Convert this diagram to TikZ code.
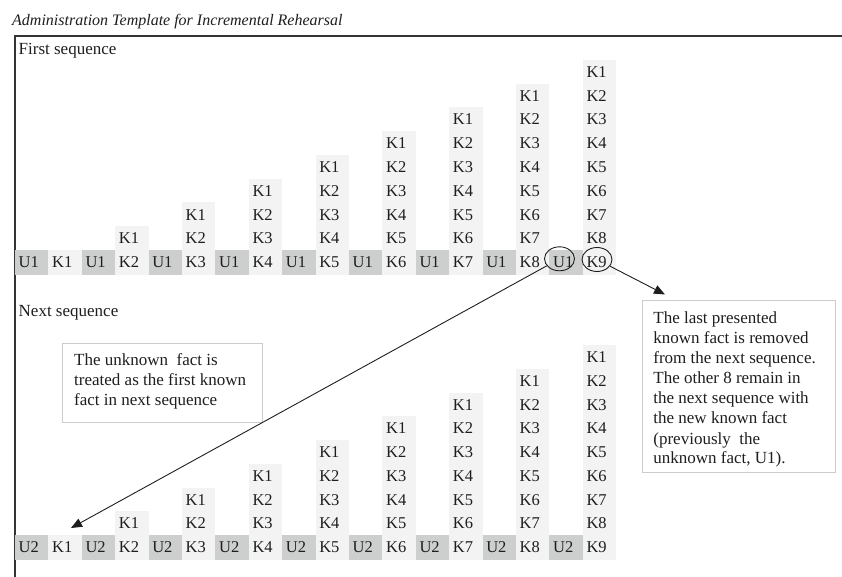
\documentclass[tikz,border=0pt]{standalone}
\usepackage{fontspec}
\setmainfont{Liberation Serif}
\usetikzlibrary{arrows.meta,shapes.geometric,calc}
\definecolor{ugray}{HTML}{CDCFCE}
\definecolor{klight}{HTML}{F3F3F3}
\definecolor{ink}{HTML}{1E1E1E}
\definecolor{boxgray}{HTML}{CCCCCC}
\tikzset{
  cell/.style={anchor=base west, inner sep=0pt, text=ink, font=\fontsize{16.5}{20}\selectfont},
  label/.style={anchor=base west, inner sep=0pt, text=ink, font=\fontsize{17}{20}\selectfont},
  ucell/.style={fill=ugray},
  kcell/.style={fill=klight},
  frameline/.style={draw=ink!90, line width=1.5pt},
  notebox/.style={draw=boxgray, line width=1pt, rectangle, inner sep=0pt, anchor=north west},
  notetext/.style={anchor=north west, inner sep=0pt, align=left, text=ink, font=\fontsize{17}{20}\selectfont},
  ring/.style={draw=ink, line width=0.9pt, ellipse, inner sep=0pt, minimum width=30pt, minimum height=24pt},
  arr/.style={draw=ink, line width=0.9pt, -{Triangle[length=11pt,width=9pt]}}
}
\begin{document}
\begin{tikzpicture}[x=1pt,y=-1pt]
\useasboundingbox (0,0) rectangle (842,577);
% title
\node[label, font=\fontsize{16}{20}\selectfont\itshape] (title) at (12,25.5) {Administration Template for Incremental Rehearsal};
% frame
\draw[frameline] (15,577) -- (15,36) -- (842,36);
\node[label] (first) at (18.5,54.5) {First sequence};
\node[label] (next) at (18.5,316.5) {Next sequence};
% grids
\foreach \s/\base/\u in {a/262.5/U1, b/547.5/U2} {
  \foreach \k in {1,...,9} {
    \pgfmathsetmacro\xu{15+33.4*(2*\k-2)}
    \pgfmathsetmacro\xk{15+33.4*(2*\k-1)}
    \pgfmathsetmacro\ktop{\base-12.5-23.75*(\k-1)}
    \pgfmathtruncatemacro\km{\k-1}
    \fill[ucell] (\xu,\base-12.5) rectangle (\xu+33.4,\base+12.5);
    \node[cell] (\s u\k) at (\xu+3.5,\base+5) {\u};
    \fill[kcell] (\xk,\ktop) rectangle (\xk+33.4,\base+12.5);
    \foreach \r in {0,...,\km} {
      \pgfmathtruncatemacro\lab{\k-\r}
      \node[cell] (\s k\k-\r) at (\xk+3.5,{\base+5-23.75*\r}) {K\lab};
    }
  }
}
% rings
\node[ring] (cu) at (559.5,258.8) {};
\node[ring] (ck) at (597,259.5) {};
% note boxes
\node[notebox, minimum width=200pt, minimum height=79pt] (lbox) at (61.7,342.7) {};
\node[notetext] (ltext) at ([xshift=12.3pt,yshift=-10.5pt]lbox.north west)
  {The unknown\ \ fact is\\treated as the first known\\fact in next sequence};
\node[notebox, minimum width=193.3pt, minimum height=171.7pt] (rbox) at (641.7,300) {};
\node[notetext] (rtext) at ([xshift=11.5pt,yshift=-12pt]rbox.north west)
  {The last presented\\known fact is removed\\from the next sequence.\\The other 8 remain in\\the next sequence with\\the new known fact\\(previously\ \ the\\unknown fact, U1).};
% arrows
\coordinate (tipL) at (71,528);
\coordinate (tipR) at (665,294.5);
\draw[arr] (cu) -- (tipL);
\draw[arr] (ck) -- (tipR);
\end{tikzpicture}
\end{document}
